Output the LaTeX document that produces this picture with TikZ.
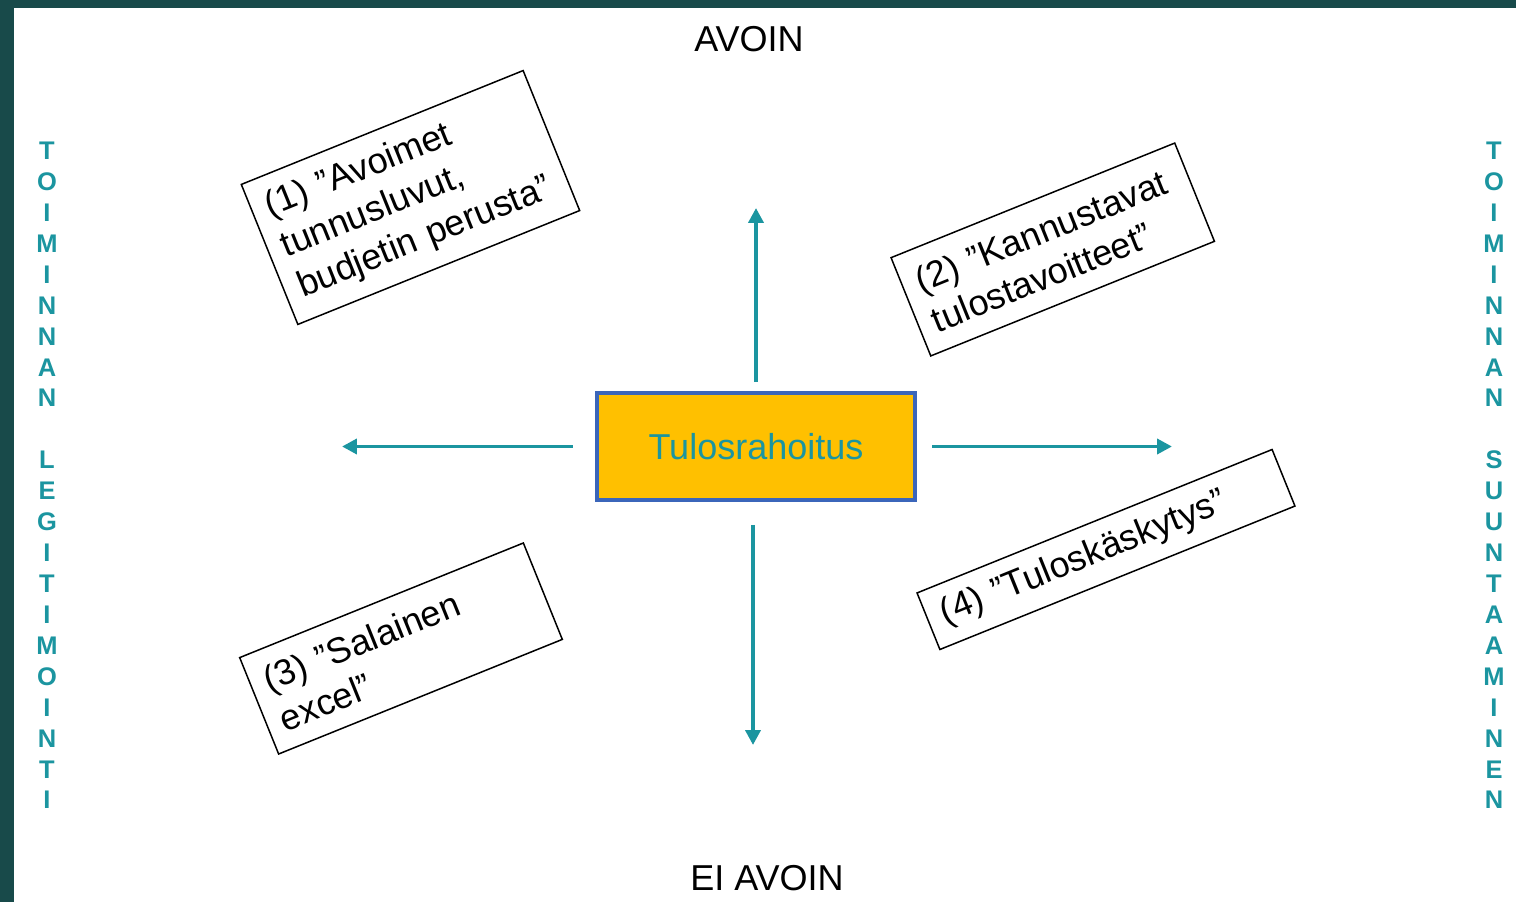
\documentclass[tikz,border=0pt]{standalone}
\usepackage{fontspec}
\setmainfont{Liberation Sans}
\usetikzlibrary{arrows.meta}
\definecolor{tausta}{HTML}{184A4A}
\definecolor{turkoosi}{HTML}{1B95A0}
\definecolor{sininen}{HTML}{3B66BA}
\definecolor{keltainen}{HTML}{FFC000}
\begin{document}
\begin{tikzpicture}[x=0.02cm, y=-0.02cm,
    every node/.style={font=\fontsize{20.5}{24.6}\selectfont},
    laatikko/.style={draw, line width=0.03cm, rotate=22, align=left, inner xsep=0.3cm, inner ysep=0.2cm},
    nuoli/.style={turkoosi, line width=0.08cm, -{Triangle[length=0.3cm,width=0.3cm]}},
    pysty/.style={text=turkoosi, align=center, font=\fontsize{14.5}{17.6}\selectfont\bfseries}]
        % Background
        \fill[tausta] (0,0) rectangle (1516,902);
        \fill[white] (14,8) rectangle (1516,902);

        % Define Nodes
        \node (avoin) at (749,39) {AVOIN};
        \node (eiavoin) at (767,878) {EI AVOIN};
        \node (tulos) [draw=sininen, line width=0.08cm, fill=keltainen, text=turkoosi,
            minimum width=6.38cm, minimum height=2.14cm] at (756,446.5) {Tulosrahoitus};
        \node (1) [laatikko, text width=5.48cm, minimum height=3.02cm] at (410.5,197.5)
            {(1) ”Avoimet\\tunnusluvut,\\budjetin perusta”};
        \node (2) [laatikko, text width=5.52cm, minimum height=2.12cm] at (1052.75,249.5)
            {(2) ”Kannustavat\\tulostavoitteet”};
        \node (3) [laatikko, text width=5.52cm, minimum height=2.08cm] at (401,648.5)
            {(3) ”Salainen\\excel”};
        \node (4) [laatikko, text width=7.06cm, minimum height=1.22cm] at (1106,549.5)
            {(4) ”Tuloskäskytys”};
        \node (legit) [pysty] at (47,475.5)
            {T\\O\\I\\M\\I\\N\\N\\A\\N\\\mbox{}\\L\\E\\G\\I\\T\\I\\M\\O\\I\\N\\T\\I};
        \node (suunt) [pysty] at (1494,475.5)
            {T\\O\\I\\M\\I\\N\\N\\A\\N\\\mbox{}\\S\\U\\U\\N\\T\\A\\A\\M\\I\\N\\E\\N};

        \coordinate (ylos) at (756,208);
        \coordinate (alas) at (753,745);
        \coordinate (vasen) at (342,446.5);
        \coordinate (oikea) at (1172,446.5);

        % Draw Edges
        \draw[nuoli, shorten <=0.18cm] (tulos) -- (ylos);
        \draw[nuoli, shorten <=0.46cm] (tulos.south -| alas) -- (alas);
        \draw[nuoli, shorten <=0.44cm] (tulos) -- (vasen);
        \draw[nuoli, shorten <=0.3cm] (tulos) -- (oikea);
    \end{tikzpicture}
\end{document}
